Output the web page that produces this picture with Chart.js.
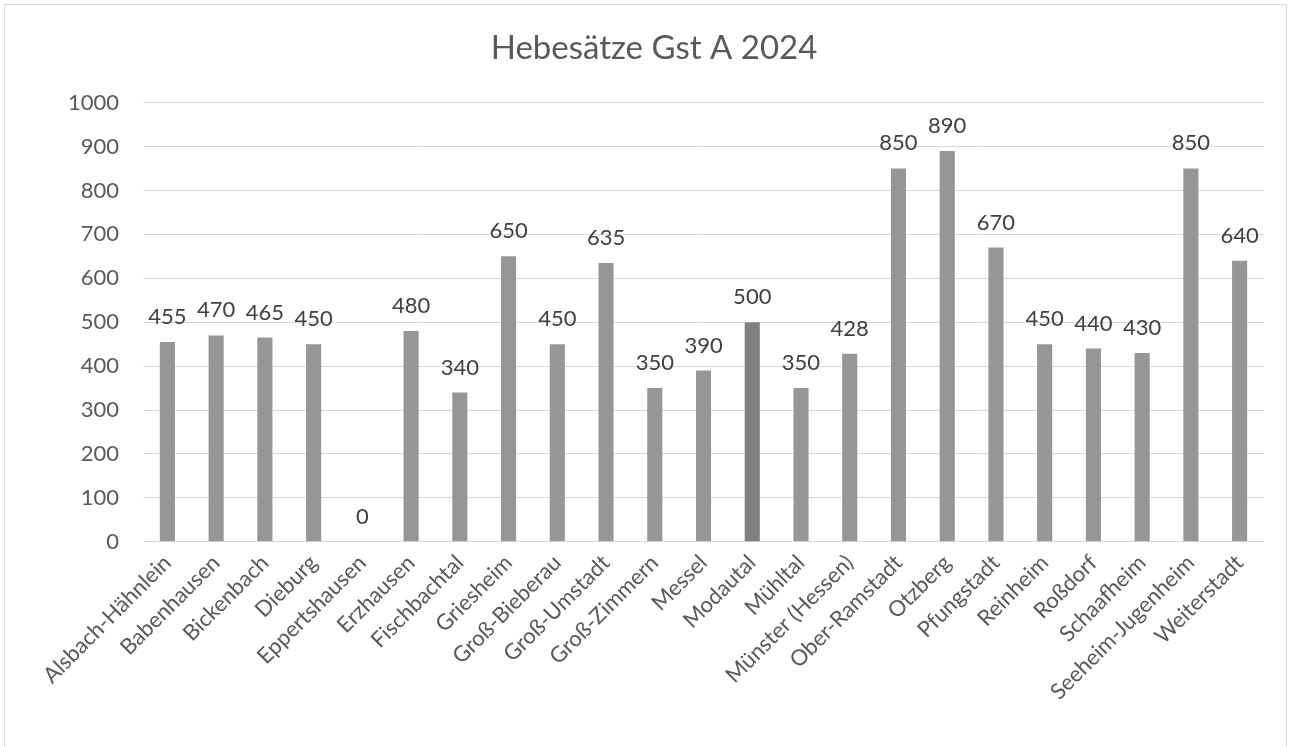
<!DOCTYPE html>
<html>
<head>
<meta charset="utf-8">
<script src="https://cdn.jsdelivr.net/npm/chart.js@4.4.1/dist/chart.umd.min.js"></script>
<style>
  html, body { margin: 0; padding: 0; background: #fff; }
  .wrap {
    position: absolute; left: 4px; top: 4px; width: 1283px; height: 760px;
    border: 1px solid #d9d9d9; box-sizing: border-box;
  }
  canvas { display: block; }
</style>
</head>
<body>
<div class="wrap"><canvas id="hebesatzChart"></canvas></div>
<script>
const gemeinden = ['Alsbach-Hähnlein', 'Babenhausen', 'Bickenbach', 'Dieburg', 'Eppertshausen', 'Erzhausen',
  'Fischbachtal', 'Griesheim', 'Groß-Bieberau', 'Groß-Umstadt', 'Groß-Zimmern', 'Messel', 'Modautal',
  'Mühltal', 'Münster (Hessen)', 'Ober-Ramstadt', 'Otzberg', 'Pfungstadt', 'Reinheim', 'Roßdorf',
  'Schaafheim', 'Seeheim-Jugenheim', 'Weiterstadt'];
const hebesaetze = [455, 470, 465, 450, 0, 480, 340, 650, 450, 635, 350, 390, 500,
  350, 428, 850, 890, 670, 450, 440, 430, 850, 640];
const hervorgehoben = ['Modautal'];
const yTicks = [0, 100, 200, 300, 400, 500, 600, 700, 800, 900, 1000];

const schrift = 'Lato, "Open Sans", sans-serif';

// Werte über die Balken schreiben
const wertLabels = {
  id: 'wertLabels',
  afterDatasetsDraw(chart) {
    const ctx = chart.ctx;
    const meta = chart.getDatasetMeta(0);
    ctx.save();
    ctx.font = '22px ' + schrift;
    ctx.fillStyle = '#404040';
    ctx.textAlign = 'center';
    ctx.textBaseline = 'alphabetic';
    meta.data.forEach((bar, i) => {
      ctx.fillText(String(chart.data.datasets[0].data[i]), bar.x, bar.y - 18);
    });
    ctx.restore();
  }
};

const canvas = document.getElementById('hebesatzChart');
new Chart(canvas.getContext('2d'), {
  type: 'bar',
  data: {
    labels: gemeinden,
    datasets: [{
      label: 'Hebesatz',
      data: hebesaetze,
      backgroundColor: gemeinden.map(g => hervorgehoben.includes(g) ? '#7f7f7f' : '#969696'),
      borderWidth: 0,
      barPercentage: 0.31,
      categoryPercentage: 1
    }]
  },
  options: {
    responsive: true,
    maintainAspectRatio: false,
    animation: false,
    layout: { padding: { left: 39, right: 22, top: 16, bottom: 50 } },
    plugins: {
      legend: { display: false },
      tooltip: { enabled: false },
      title: {
        display: true,
        text: 'Hebesätze Gst A 2024',
        color: '#595959',
        font: { family: schrift, size: 33, weight: 'normal' },
        padding: { top: 8, bottom: 34 }
      }
    },
    scales: {
      x: {
        grid: { display: false, drawTicks: false },
        border: { display: true, color: '#d9d9d9', width: 1 },
        ticks: {
          color: '#595959',
          font: { family: schrift, size: 22 },
          minRotation: 45, maxRotation: 45, autoSkip: false, padding: 8
        }
      },
      y: {
        min: 0, max: 1000,
        afterBuildTicks: axis => { axis.ticks = yTicks.map(v => ({ value: v })); },
        grid: { color: '#d9d9d9', lineWidth: 1, drawTicks: false },
        border: { display: false },
        ticks: {
          color: '#595959',
          font: { family: schrift, size: 22 },
          padding: 24,
          callback: v => String(v)
        }
      }
    }
  },
  plugins: [wertLabels]
});
</script>
</body>
</html>
